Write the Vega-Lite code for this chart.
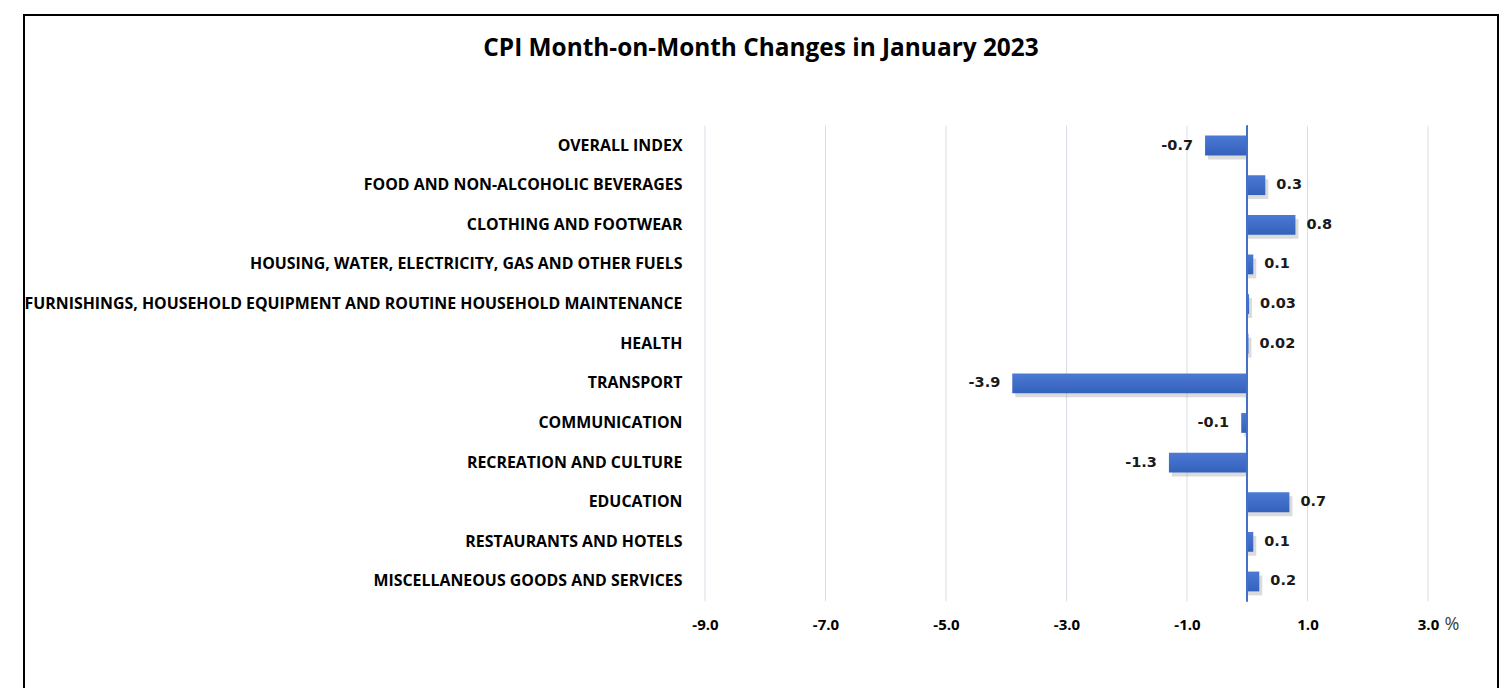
{
  "$schema": "https://vega.github.io/schema/vega-lite/v6.json",
  "autosize": "none",
  "width": 1474,
  "height": 680,
  "padding": {"left": 24, "top": 15, "right": 2, "bottom": 0},
  "background": "white",
  "config": {
    "view": {"stroke": "#000000", "strokeWidth": 2},
    "locale": {"number": {"decimal": ".", "thousands": ",", "grouping": [3], "currency": ["$", ""], "minus": "-"}}
  },
  "title": {
    "text": "CPI Month-on-Month Changes in January 2023",
    "anchor": "middle",
    "frame": "group",
    "font": "Open Sans",
    "fontSize": 24.4,
    "fontWeight": "bold",
    "color": "#000000",
    "baseline": "alphabetic",
    "offset": -65
  },
  "datasets": {
    "cpi": [
      {"category": "OVERALL INDEX", "value": -0.7},
      {"category": "FOOD AND NON-ALCOHOLIC BEVERAGES", "value": 0.3},
      {"category": "CLOTHING AND FOOTWEAR", "value": 0.8},
      {"category": "HOUSING, WATER, ELECTRICITY, GAS AND OTHER FUELS", "value": 0.1},
      {"category": "FURNISHINGS, HOUSEHOLD EQUIPMENT AND ROUTINE HOUSEHOLD MAINTENANCE", "value": 0.03},
      {"category": "HEALTH", "value": 0.02},
      {"category": "TRANSPORT", "value": -3.9},
      {"category": "COMMUNICATION", "value": -0.1},
      {"category": "RECREATION AND CULTURE", "value": -1.3},
      {"category": "EDUCATION", "value": 0.7},
      {"category": "RESTAURANTS AND HOTELS", "value": 0.1},
      {"category": "MISCELLANEOUS GOODS AND SERVICES", "value": 0.2}
    ],
    "grid": [{"v": -9}, {"v": -7}, {"v": -5}, {"v": -3}, {"v": -1}, {"v": 1}, {"v": 3}]
  },
  "layer": [
    {
      "layer": [
        {
          "data": {"name": "grid"},
          "mark": {"type": "rule", "color": "#D9DEE8", "strokeWidth": 1},
          "encoding": {
            "x": {"field": "v", "type": "quantitative", "title": null, "scale": {"domain": [-20.303, 4.162], "nice": false, "zero": false}},
            "y": {"datum": 0, "type": "quantitative", "title": null, "scale": {"domain": [-0.197, 1.233], "nice": false, "zero": false}, "axis": null},
            "y2": {"datum": 1}
          }
        },
        {
          "data": {"values": [{"unit": "%"}]},
          "mark": {"type": "text", "font": "Open Sans", "fontSize": 18, "color": "#404040", "align": "center", "baseline": "middle", "dx": 24},
          "encoding": {
            "x": {"datum": 3, "type": "quantitative", "title": null},
            "y": {"datum": -0.05, "type": "quantitative", "title": null, "axis": null},
            "text": {"field": "unit", "type": "nominal"}
          }
        }
      ]
    },
    {
      "data": {"name": "cpi"},
      "encoding": {
        "y": {
          "field": "category",
          "type": "nominal",
          "sort": null,
          "title": null,
          "scale": {"range": [110.7, 586.3], "paddingInner": 0.5, "paddingOuter": 0.25},
          "axis": {
            "title": null, "domain": false, "ticks": false, "grid": false,
            "labelFont": "Open Sans", "labelFontWeight": "bold", "labelFontSize": 15.9,
            "labelColor": "#000000", "offset": -658, "labelPadding": 0, "labelLimit": 1000
          }
        }
      },
      "layer": [
        {
          "mark": {"type": "bar", "color": "#7F7F7F", "opacity": 0.28},
          "encoding": {
            "x": {"field": "value", "type": "quantitative", "title": null},
            "x2": {"datum": 0},
            "xOffset": {"value": 3},
            "yOffset": {"value": 4}
          }
        },
        {
          "mark": {
            "type": "bar",
            "color": {"gradient": "linear", "x1": 0, "y1": 0, "x2": 0, "y2": 1, "stops": [{"offset": 0, "color": "#4C79D3"}, {"offset": 1, "color": "#3461BC"}]}
          },
          "encoding": {
            "x": {
              "field": "value", "type": "quantitative", "title": null,
              "scale": {"domain": [-20.303, 4.162], "nice": false, "zero": false},
              "axis": {
                "title": null, "values": [-9, -7, -5, -3, -1, 1, 3], "format": ".1f",
                "grid": false, "ticks": false, "domain": false,
                "labelFont": "Open Sans", "labelFontWeight": "bold", "labelFontSize": 15,
                "labelColor": "#000000", "offset": -78, "labelPadding": 0
              }
            },
            "x2": {"datum": 0}
          }
        },
        {
          "transform": [{"filter": "datum.value >= 0"}],
          "mark": {"type": "text", "align": "left", "baseline": "middle", "dx": 11, "font": "DejaVu Sans", "fontWeight": "bold", "fontSize": 14.5, "color": "#1A1A1A"},
          "encoding": {
            "x": {"field": "value", "type": "quantitative", "title": null},
            "text": {"field": "value", "type": "quantitative"}
          }
        },
        {
          "transform": [{"filter": "datum.value < 0"}],
          "mark": {"type": "text", "align": "right", "baseline": "middle", "dx": -12, "font": "DejaVu Sans", "fontWeight": "bold", "fontSize": 14.5, "color": "#1A1A1A"},
          "encoding": {
            "x": {"field": "value", "type": "quantitative", "title": null},
            "text": {"field": "value", "type": "quantitative"}
          }
        }
      ]
    },
    {
      "data": {"name": "grid"},
      "mark": {"type": "rule", "color": "#4472C4", "strokeWidth": 1.5},
      "encoding": {
        "x": {"datum": 0, "type": "quantitative", "title": null},
        "y": {"datum": 0, "type": "quantitative", "title": null, "scale": {"domain": [-0.197, 1.233], "nice": false, "zero": false}, "axis": null},
        "y2": {"datum": 1}
      }
    }
  ],
  "resolve": {"scale": {"y": "independent"}, "axis": {"y": "independent"}}
}
